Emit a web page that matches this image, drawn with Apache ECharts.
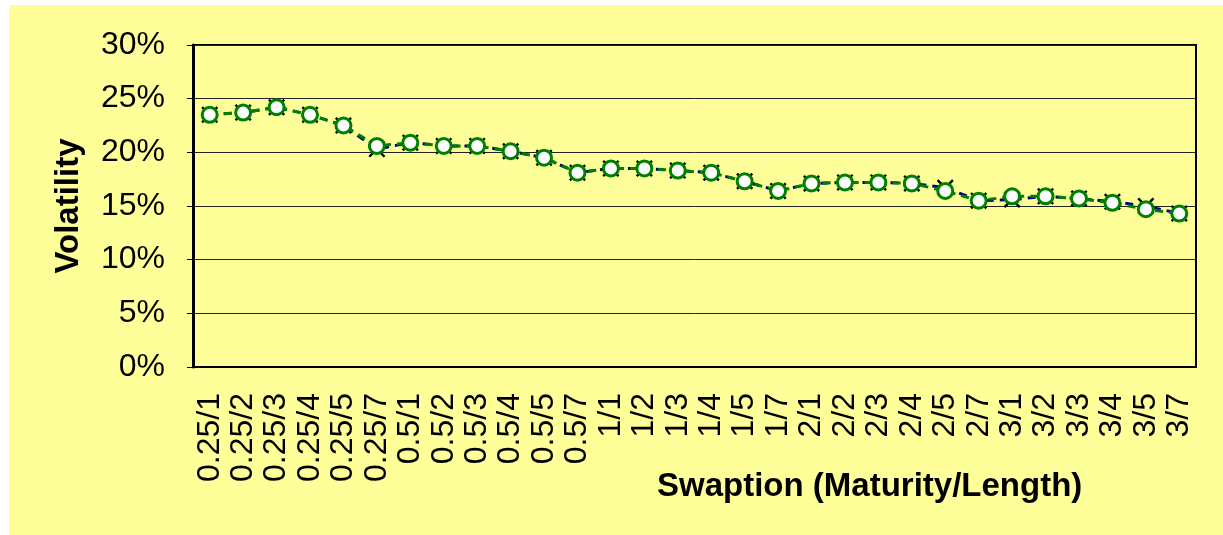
<!DOCTYPE html>
<html>
<head>
    <meta charset="utf-8">
    <title>Swaption volatility</title>
    <script src="https://cdn.jsdelivr.net/npm/echarts@6/dist/echarts.min.js"></script>
    <style>
        html, body {
            margin: 0;
            padding: 0;
            width: 100%;
            height: 100%;
            background: #ffffff;
        }
        #chart {
            position: absolute;
            left: 9px;
            top: 5px;
            width: 1214px;
            height: 530px;
            background: #ffff99;
        }
    </style>
</head>
<body>
<div id="chart"></div>
<script>
    // swaption buckets (maturity/length)
    var swaptions = ['0.25/1', '0.25/2', '0.25/3', '0.25/4', '0.25/5', '0.25/7',
        '0.5/1', '0.5/2', '0.5/3', '0.5/4', '0.5/5', '0.5/7',
        '1/1', '1/2', '1/3', '1/4', '1/5', '1/7',
        '2/1', '2/2', '2/3', '2/4', '2/5', '2/7',
        '3/1', '3/2', '3/3', '3/4', '3/5', '3/7'];
    // market vols (x markers, blue line), in %
    var marketVol = [23.5, 23.7, 24.2, 23.5, 22.5, 20.3,
        20.9, 20.6, 20.6, 20.1, 19.5, 18.1,
        18.5, 18.5, 18.3, 18.1, 17.3, 16.4,
        17.1, 17.2, 17.2, 17.1, 16.7, 15.5,
        15.6, 15.9, 15.7, 15.4, 15.0, 14.3];
    // model vols (circles, green dashed line), in %
    var modelVol = [23.5, 23.7, 24.2, 23.5, 22.5, 20.6,
        20.9, 20.6, 20.6, 20.1, 19.5, 18.1,
        18.5, 18.5, 18.3, 18.1, 17.3, 16.4,
        17.1, 17.2, 17.2, 17.1, 16.4, 15.5,
        15.9, 15.9, 15.7, 15.3, 14.7, 14.3];
    var yTicks = [0, 5, 10, 15, 20, 25, 30];

    var FONT = '"Liberation Sans", Arial, sans-serif';
    var crossPath = 'path://M0,1L1,0L5,4L9,0L10,1L6,5L10,9L9,10L5,6L1,10L0,9L4,5Z';

    var myChart = echarts.init(document.getElementById('chart'));
    var option = {
        animation: false,
        grid: {
            left: 184,
            top: 40,
            width: 1003,
            height: 322,
            show: true,
            borderColor: '#000',
            borderWidth: 2,
            backgroundColor: 'transparent'
        },
        xAxis: {
            type: 'category',
            data: swaptions,
            axisLine: { lineStyle: { color: '#000', width: 2 } },
            axisTick: { interval: 0, length: 8, lineStyle: { color: '#000', width: 1 } },
            axisLabel: {
                interval: 0,
                rotate: 90,
                margin: 26,
                color: '#000',
                fontFamily: FONT,
                fontSize: 32
            }
        },
        yAxis: {
            type: 'value',
            min: yTicks[0],
            max: yTicks[yTicks.length - 1],
            interval: 5,
            name: 'Volatility',
            nameLocation: 'middle',
            nameGap: 108,
            nameTextStyle: {
                color: '#000',
                fontFamily: FONT,
                fontSize: 33,
                fontWeight: 'bold'
            },
            axisLine: { show: true, lineStyle: { color: '#000', width: 3 } },
            axisTick: { show: true, length: 6, lineStyle: { color: '#000', width: 1 } },
            axisLabel: {
                margin: 28,
                color: '#000',
                fontFamily: FONT,
                fontSize: 32,
                formatter: '{value}%'
            },
            splitLine: { show: true, lineStyle: { color: '#222', width: 1 } }
        },
        graphic: [{
            type: 'text',
            left: 648,
            top: 465,
            style: {
                text: 'Swaption (Maturity/Length)',
                font: 'bold 33px ' + FONT,
                fill: '#000'
            }
        }],
        series: [
            {
                name: 'Market',
                type: 'line',
                data: marketVol,
                symbol: crossPath,
                symbolSize: 17,
                itemStyle: { color: '#000' },
                lineStyle: { color: '#000080', width: 3, type: [8, 6] },
                z: 2
            },
            {
                name: 'Model',
                type: 'line',
                data: modelVol,
                symbol: 'circle',
                symbolSize: 15,
                itemStyle: { color: '#ffffff', borderColor: '#008000', borderWidth: 3 },
                lineStyle: { color: '#008000', width: 3, type: [8, 6] },
                z: 3
            }
        ]
    };
    myChart.setOption(option);
</script>
</body>
</html>
